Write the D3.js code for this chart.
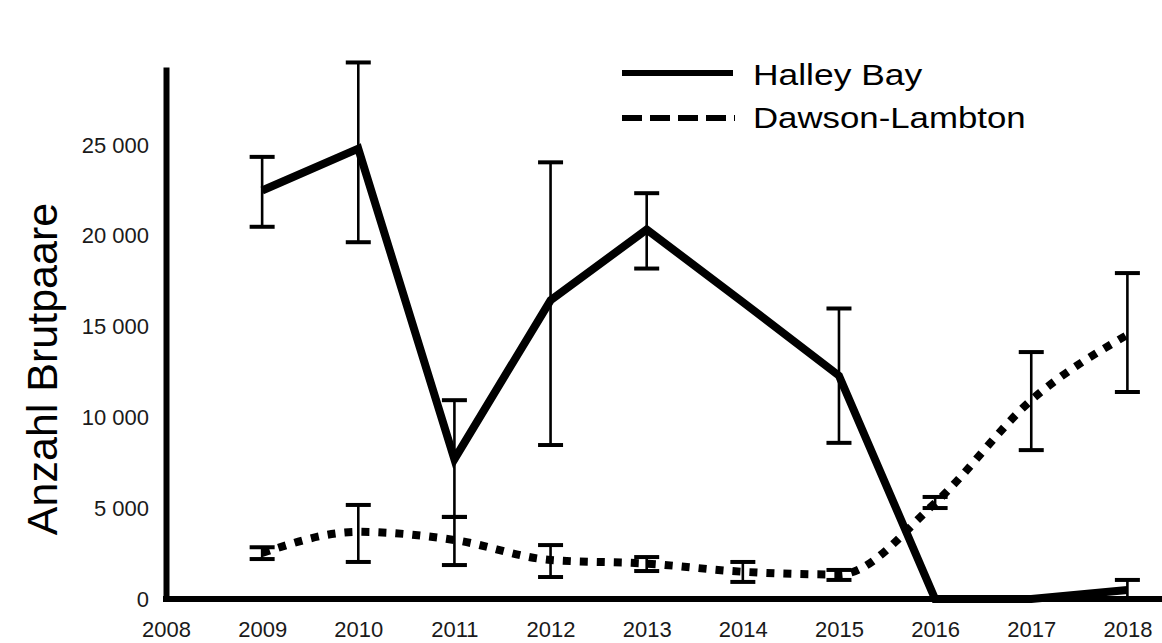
<!DOCTYPE html>
<html>
<head>
<meta charset="utf-8">
<script src="https://cdn.jsdelivr.net/npm/d3@7"></script>
<style>
  body { margin: 0; background: #fff; }
  svg { display: block; font-family: "Liberation Sans", Arial, sans-serif; }
</style>
</head>
<body>
<div class="chart"></div>
<script>
// values
const years = [2009, 2010, 2011, 2012, 2013, 2014, 2015, 2016, 2017, 2018]
const xTicks = [2008, 2009, 2010, 2011, 2012, 2013, 2014, 2015, 2016, 2017, 2018]
const yTicks = [0, 5000, 10000, 15000, 20000, 25000]

const halley   = [22500, 24800, 7700, 16450, 20350, 16350, 12300, 0, 0, 500]
const halleyHi = [24350, 29550, 10950, 24050, 22350, null, 16000, null, null, 1050]
const halleyLo = [20500, 19650, 4520, 8480, 18200, null, 8600, null, null, 0]

const dawson   = [2530, 3700, 3250, 2150, 1950, 1500, 1350, 5290, 10950, 14550]
const dawsonHi = [2850, 5180, 4520, 2970, 2310, 2040, 1600, 5620, 13600, 17950]
const dawsonLo = [2200, 2040, 1870, 1210, 1540, 940, 1050, 5010, 8200, 11400]

const W = 1162, H = 643

const x = d3.scaleLinear().domain([2008, 2018.36]).range([166, 1162])
const y = d3.scaleLinear().domain([0, 29300]).range([599, 67])

const svg = d3.select(".chart").append("svg")
  .attr("width", W).attr("height", H)

svg.append("rect").attr("width", W).attr("height", H).attr("fill", "#fff")

const fmt = d3.formatLocale({decimal: ",", thousands: " ", grouping: [3], currency: ["", ""]}).format(",d")

// error bars
function errorBars(hi, lo){
  const rows = years.map((yr, i) => ({yr, hi: hi[i], lo: lo[i]})).filter(d => d.hi != null)
  const g = svg.append("g").attr("stroke", "#000")
  g.selectAll("line.v").data(rows).enter().append("line")
    .attr("x1", d => x(d.yr)).attr("x2", d => x(d.yr))
    .attr("y1", d => y(d.hi)).attr("y2", d => y(d.lo))
    .attr("stroke-width", 2.6)
  g.selectAll("line.t").data(rows).enter().append("line")
    .attr("x1", d => x(d.yr) - 12.5).attr("x2", d => x(d.yr) + 12.5)
    .attr("y1", d => y(d.hi)).attr("y2", d => y(d.hi))
    .attr("stroke-width", 4)
  g.selectAll("line.b").data(rows).enter().append("line")
    .attr("x1", d => x(d.yr) - 12.5).attr("x2", d => x(d.yr) + 12.5)
    .attr("y1", d => y(d.lo)).attr("y2", d => y(d.lo))
    .attr("stroke-width", 4)
}
errorBars(halleyHi, halleyLo)
errorBars(dawsonHi, dawsonLo)

// lines
const lineLin = d3.line().x((d, i) => x(years[i])).y(d => y(d))
const lineCurve = d3.line().x((d, i) => x(years[i])).y(d => y(d)).curve(d3.curveMonotoneX)

svg.append("path")
  .attr("d", lineCurve(dawson))
  .attr("fill", "none").attr("stroke", "#000")
  .attr("stroke-width", 8)
  .attr("stroke-dasharray", "8 9")

svg.append("path")
  .attr("d", lineLin(halley))
  .attr("fill", "none").attr("stroke", "#000")
  .attr("stroke-width", 8)
  .attr("stroke-linejoin", "miter")

// axes
const yAxis = d3.axisLeft(y).tickValues(yTicks).tickFormat(fmt).tickSize(0).tickPadding(17).tickSizeOuter(0)
const xAxis = d3.axisBottom(x).tickValues(xTicks).tickFormat(d3.format("d")).tickSize(0).tickPadding(22).tickSizeOuter(0)

const gx = svg.append("g").attr("transform", `translate(0,${y(0)})`).call(xAxis)
const gy = svg.append("g").attr("transform", `translate(${x(2008)},0)`).call(yAxis)

gx.select(".domain").attr("stroke", "#000").attr("stroke-width", 6)
  .attr("d", `M${x(2008) - 3},0H${W}`)
gy.select(".domain").attr("stroke", "#000").attr("stroke-width", 6)

gx.selectAll("text").attr("font-size", 22).attr("fill", "#1a1a1a")
  .attr("font-family", "Liberation Sans, Arial, sans-serif")
gy.selectAll("text").attr("font-size", 22).attr("fill", "#1a1a1a")
  .attr("font-family", "Liberation Sans, Arial, sans-serif")

// axis title
svg.append("text")
  .attr("transform", "translate(57,369) rotate(-90)")
  .attr("text-anchor", "middle")
  .attr("font-size", 43)
  .attr("fill", "#000")
  .text("Anzahl Brutpaare")

// legend
const legend = svg.append("g")
legend.append("line")
  .attr("x1", 622).attr("x2", 733).attr("y1", 73).attr("y2", 73)
  .attr("stroke", "#000").attr("stroke-width", 6)
legend.append("line")
  .attr("x1", 622).attr("x2", 735).attr("y1", 118).attr("y2", 118)
  .attr("stroke", "#000").attr("stroke-width", 6)
  .attr("stroke-dasharray", "20 8")
legend.append("text")
  .attr("transform", "translate(753,85) scale(1.18,1)")
  .attr("font-size", 30).attr("fill", "#000")
  .text("Halley Bay")
legend.append("text")
  .attr("transform", "translate(753,128) scale(1.16,1)")
  .attr("font-size", 30).attr("fill", "#000")
  .text("Dawson-Lambton")
</script>
</body>
</html>
